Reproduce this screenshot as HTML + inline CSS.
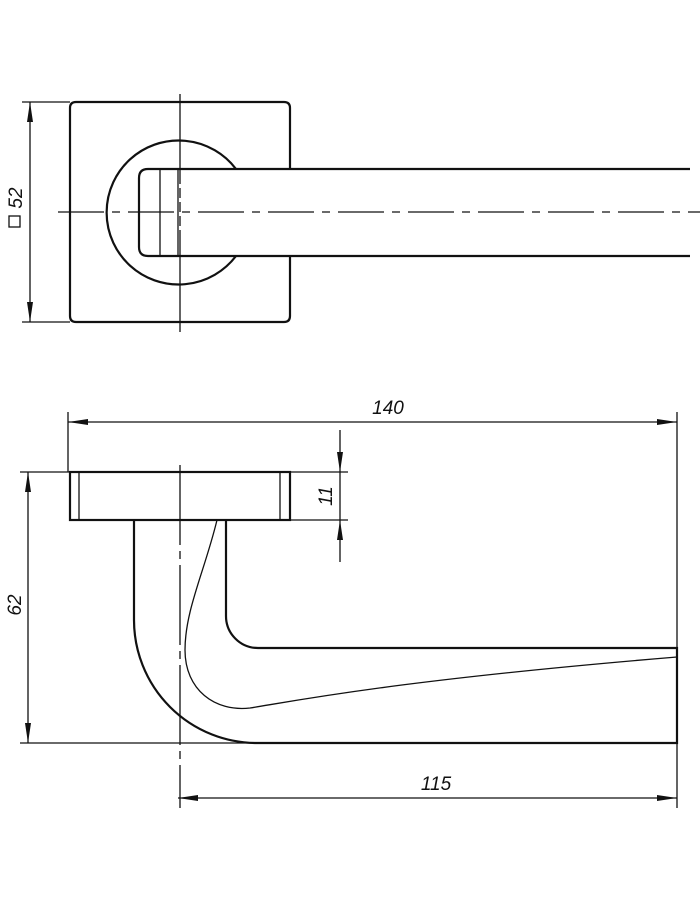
<!DOCTYPE html>
<html><head><meta charset="utf-8"><style>
html,body{margin:0;padding:0;background:#fff;width:700px;height:900px;overflow:hidden}
svg{display:block}
text{font-family:"Liberation Sans",sans-serif;font-style:italic;font-size:19px;fill:#111}
</style></head><body>
<svg width="700" height="900" viewBox="0 0 700 900" xmlns="http://www.w3.org/2000/svg">
<defs>
<marker id="a" viewBox="0 0 20 6" refX="20" refY="3" markerWidth="20" markerHeight="6" markerUnits="userSpaceOnUse" orient="auto-start-reverse"><path d="M0,0 L20,3 L0,6 Z" fill="#111"/></marker>
</defs>
<g stroke="#111" fill="none">
<!-- TOP VIEW -->
<g stroke-width="2.2">
<path d="M290,169 V108 Q290,102 284,102 H76 Q70,102 70,108 V316 Q70,322 76,322 H284 Q290,322 290,316 V256"/>
<path d="M236,169 A72,72 0 1 0 236,256"/>
<path d="M690,169 H148 Q139,169 139,178 V247 Q139,256 148,256 H690"/>
</g>
<g stroke-width="1.3">
<line x1="160" y1="170" x2="160" y2="255"/>
<line x1="178" y1="170" x2="178" y2="255"/>
<line x1="58" y1="212" x2="700" y2="212" stroke-dasharray="46,8,8,8"/>
<line x1="180" y1="94" x2="180" y2="332" stroke-dasharray="90,4,10,4,10,4,10,4,200"/>
<line x1="22" y1="102" x2="70" y2="102"/>
<line x1="22" y1="322" x2="70" y2="322"/>
<line x1="30" y1="102" x2="30" y2="322" marker-start="url(#a)" marker-end="url(#a)"/>
</g>
<rect x="9" y="216" width="11" height="11" stroke-width="1.3"/>
<!-- SIDE VIEW -->
<g stroke-width="2.2">
<rect x="70" y="472" width="220" height="48"/>
<path d="M134,520 V620 A123,123 0 0 0 257,743 H677 V648 H258 A32,32 0 0 1 226,616 V520"/>
</g>
<g stroke-width="1.3">
<line x1="79" y1="472" x2="79" y2="520"/>
<line x1="280" y1="472" x2="280" y2="520"/>
<path d="M217,520 C205,570 185,610 185,650 C185,690 215,712 250,708 C300,700 400,680 677,657"/>
<line x1="180" y1="465" x2="180" y2="808" stroke-dasharray="80,6,8,6"/>
<line x1="68" y1="412" x2="68" y2="472"/>
<line x1="677" y1="412" x2="677" y2="808"/>
<line x1="68" y1="422" x2="677" y2="422" marker-start="url(#a)" marker-end="url(#a)"/>
<line x1="178" y1="798" x2="677" y2="798" marker-start="url(#a)" marker-end="url(#a)"/>
<line x1="290" y1="472" x2="348" y2="472"/>
<line x1="290" y1="520" x2="348" y2="520"/>
<line x1="340" y1="430" x2="340" y2="472" marker-end="url(#a)"/>
<line x1="340" y1="562" x2="340" y2="520" marker-end="url(#a)"/>
<line x1="340" y1="472" x2="340" y2="520"/>
<line x1="20" y1="472" x2="70" y2="472"/>
<line x1="20" y1="743" x2="257" y2="743"/>
<line x1="28" y1="472" x2="28" y2="743" marker-start="url(#a)" marker-end="url(#a)"/>
</g>
</g>
<text x="22" y="198" transform="rotate(-90 22 198)" text-anchor="middle" font-size="20">52</text>
<text x="388" y="414" text-anchor="middle">140</text>
<text x="436" y="790" text-anchor="middle">115</text>
<text x="332" y="496" transform="rotate(-90 332 496)" text-anchor="middle">11</text>
<text x="21" y="605" transform="rotate(-90 21 605)" text-anchor="middle">62</text>
</svg>
</body></html>
